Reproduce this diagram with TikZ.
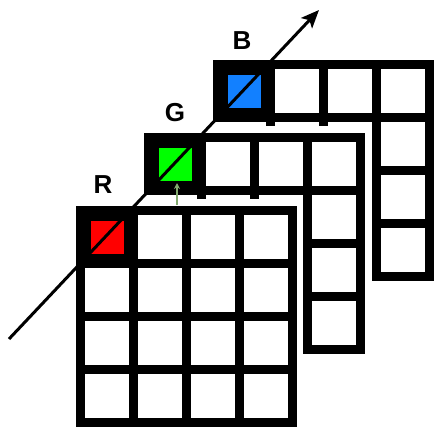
\documentclass[tikz,border=0pt]{standalone}
\usepackage{fontspec}
\setmainfont{Liberation Sans}
\usetikzlibrary{arrows.meta}
\definecolor{cR}{RGB}{255,0,0}
\definecolor{cG}{RGB}{0,255,0}
\definecolor{cB}{RGB}{18,128,255}
\definecolor{hint}{RGB}{130,170,110}
\tikzset{
  blk/.style={fill=black},
  wht/.style={fill=white},
  lbl/.style={font=\bfseries\fontsize{26}{26}\selectfont, inner sep=0pt},
}
% cell interior: i column, j row, origin #1,#2
\newcommand{\mycell}[5]{\fill[#5] ({#1+9+53*#3},{#2+9+53*#4}) rectangle ({#1+53*(#3+1)},{#2+53*(#4+1)});}
\newcommand{\mycolor}[3]{\fill[#3] ({#1+14.5},{#2+14.5}) rectangle ({#1+47.5},{#2+47.5});}
\newcommand{\lgrid}[3]{%
  \fill[blk] (#1,#2) rectangle ({#1+221},{#2+62});
  \fill[blk] ({#1+159},#2) rectangle ({#1+221},{#2+221});
  \fill[blk] ({#1+53},{#2+60}) rectangle ({#1+62},{#2+66});
  \fill[blk] ({#1+106},{#2+60}) rectangle ({#1+115},{#2+66});
  \foreach \i in {1,2,3} {\mycell{#1}{#2}{\i}{0}{white}}
  \foreach \j in {1,2,3} {\mycell{#1}{#2}{3}{\j}{white}}
  \mycolor{#1}{#2}{#3}
}
\begin{document}
\begin{tikzpicture}[x=1pt,y=-1pt]
\useasboundingbox (0,0) rectangle (445,437);
% B layer
\lgrid{213}{60}{cB}
% G layer
\lgrid{144}{133}{cG}
% R layer (full grid)
\fill[blk] (76,206) rectangle (297,427);
\foreach \i in {0,1,2,3} {\foreach \j in {0,1,2,3} {%
  \ifnum\i\j=00 \else \mycell{76}{206}{\i}{\j}{white}\fi}}
\mycolor{76}{206}{cR}
% labels
\node[lbl] (lR) at (103,185) {R};
\node[lbl] (lG) at (175,113) {G};
\node[lbl] (lB) at (242,41) {B};
% main arrow
\coordinate (a0) at (9,339);
\coordinate (a1) at (319,10);
\draw[line width=3pt, -{Stealth[length=18pt,width=15pt,inset=4pt]}] (a0) -- (a1);
% small hint arrow
\coordinate (h0) at (177,205);
\coordinate (h1) at (177,183);
\draw[hint, line width=1.2pt, -{Stealth[length=6pt,width=6pt]}] (h0) -- (h1);
\end{tikzpicture}
\end{document}
